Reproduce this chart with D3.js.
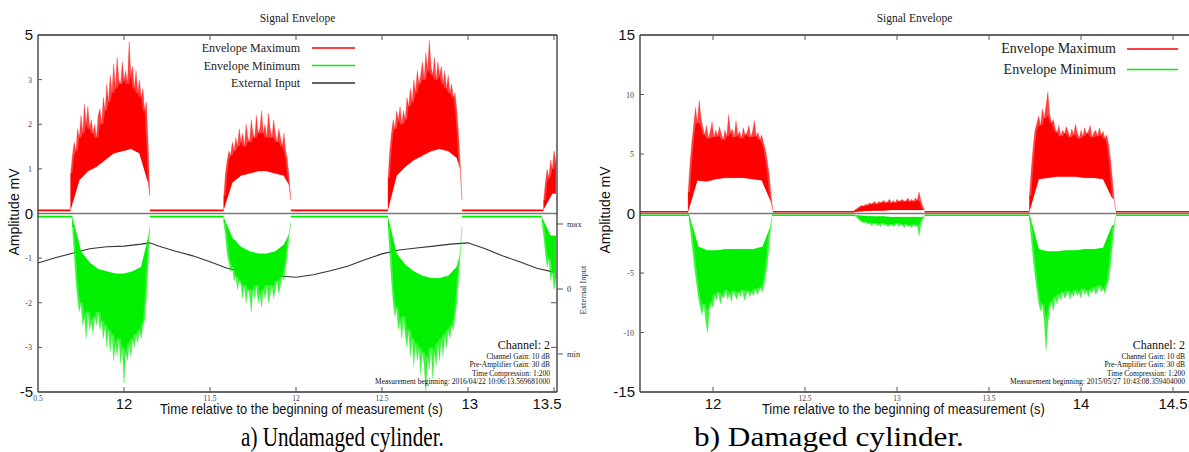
<!DOCTYPE html>
<html><head><meta charset="utf-8">
<script src="https://cdn.jsdelivr.net/npm/d3@7"></script>
<style>body{margin:0;background:#fff}svg{display:block}</style>
</head><body>
<svg id="chart" width="1189" height="452"></svg>
<script>
// ---------------- DATA ----------------
const DT = 0.01;          // sample step of envelope bursts (s)
const LO_DT = 0.05;       // sample step of the inner envelope bound (s)

// Panel a) Undamaged cylinder
const aRedStart = [10.69, 11.58, 12.535, 13.44];
const aRedHi = [
 [0.9,1.3,1.6,1.4,1.9,1.7,2.2,1.8,2.45,2.0,2.4,1.9,2.1,1.8,2.0,1.7,2.2,2.35,2.0,2.6,2.3,2.9,2.5,3.1,2.7,3.35,2.8,3.5,3.0,2.9,3.4,3.0,3.2,2.9,3.85,3.1,3.3,2.8,3.2,2.7,3.0,2.6,2.8,2.3,2.5,1.6,0.4],
 [0.4,0.9,1.2,1.4,1.3,1.6,1.4,1.7,1.5,1.9,1.6,1.8,1.5,2.0,1.7,1.6,2.1,1.8,1.7,2.2,1.8,1.9,2.3,1.8,2.0,1.7,2.25,1.9,1.7,2.1,1.8,1.6,1.9,1.7,1.5,1.8,1.4,1.2,0.8,0.3],
 [0.8,1.4,1.8,2.1,1.9,2.3,2.1,2.4,2.0,2.3,2.1,2.6,2.4,2.8,2.5,3.0,2.7,3.2,2.9,3.1,3.4,3.0,3.6,3.2,3.88,3.3,3.1,3.5,3.0,3.4,3.1,3.3,2.9,3.2,2.8,3.1,2.7,2.9,2.6,2.7,2.3,1.8,1.1,0.3],
 [0.3,0.7,1.0,0.8,1.2,1.0,1.4,1.2]
];
const aRedLo = [
 [0.1,0.75,0.95,1.05,1.2,1.35,1.4,1.45,1.35,0.7],
 [0.1,0.7,0.85,0.9,0.95,0.95,0.9,0.85,0.5],
 [0.1,0.85,1.05,1.2,1.3,1.4,1.45,1.4,1.25,0.6],
 [0.1,0.45]
];
const aGreenStart = [10.70, 11.58, 12.535, 13.43];
const aGreenHi = [
 [-0.3,-0.9,-1.5,-1.9,-2.2,-2.0,-2.5,-2.3,-2.8,-2.2,-2.6,-2.4,-2.7,-2.3,-2.5,-2.2,-2.6,-2.4,-2.8,-2.5,-3.0,-2.6,-3.1,-2.7,-3.3,-2.9,-3.2,-2.8,-3.35,-3.0,-3.8,-3.1,-3.3,-2.9,-3.2,-2.8,-3.0,-2.7,-2.9,-2.6,-2.8,-2.5,-2.4,-1.9,-1.2,-0.3],
 [-0.2,-0.5,-0.9,-1.1,-1.3,-1.2,-1.5,-1.4,-1.7,-1.5,-1.6,-1.9,-1.6,-2.0,-1.7,-1.8,-2.2,-1.7,-1.9,-1.6,-2.0,-1.8,-2.1,-1.7,-1.9,-1.6,-2.0,-1.8,-1.6,-1.9,-1.7,-1.5,-1.8,-1.6,-1.4,-1.5,-1.2,-0.9,-0.5,-0.2],
 [-0.3,-0.9,-1.5,-2.0,-2.3,-2.1,-2.6,-2.4,-2.8,-2.3,-2.7,-3.0,-2.6,-3.2,-2.8,-3.4,-2.9,-3.3,-3.0,-3.6,-3.1,-3.4,-4.0,-3.2,-3.5,-3.0,-3.7,-3.1,-3.4,-2.9,-3.3,-2.8,-3.2,-2.7,-3.0,-2.6,-2.8,-2.5,-2.6,-2.3,-2.0,-1.5,-0.9,-0.3],
 [-0.2,-0.5,-0.9,-1.2,-1.0,-1.5,-1.3,-1.7,-1.5]
];
const aGreenLo = [
 [-0.1,-0.85,-1.1,-1.25,-1.3,-1.35,-1.35,-1.3,-1.2,-0.4],
 [-0.1,-0.55,-0.75,-0.85,-0.9,-0.9,-0.85,-0.7,-0.3],
 [-0.1,-0.9,-1.15,-1.3,-1.4,-1.45,-1.45,-1.4,-1.2,-0.4],
 [-0.1,-0.5]
];
const aBase = [0.07, -0.07];   // idle level of max / min envelope
const aExtT = [10.5,10.6,10.7,10.8,10.9,11.0,11.1,11.15,11.2,11.3,11.4,11.5,11.6,11.7,11.8,11.9,12.0,12.1,12.2,12.3,12.4,12.5,12.6,12.7,12.8,12.9,13.0,13.1,13.2,13.3,13.4,13.5];
const aExtV = [0.40,0.48,0.55,0.62,0.65,0.66,0.69,0.71,0.66,0.58,0.51,0.42,0.32,0.26,0.23,0.20,0.18,0.22,0.28,0.35,0.45,0.54,0.60,0.63,0.66,0.69,0.71,0.62,0.51,0.42,0.32,0.26];
const aYSmall = [3, 2, 1, -1, -2, -3];
const aYBigText = ["5", "0", "-5"];
const aYBigAt = [4, 0, -4];
const aXTicks = [11, 11.5, 12, 12.5, 13, 13.5];
const aXSmallAt = [10.5, 11.5, 12, 12.5];
const aXSmallText = ["0.5", "11.5", "12", "12.5"];
const aXBigText = ["12", "13", "13.5"];
const aXBigAt = [11, 13.01, 13.46];
const aExtTickText = ["max", "0", "min"];
const aExtTickAt = [1, 0, -1];
const aLegend = ["Envelope Maximum", "Envelope Minimum", "External Input"];
const aInfo = ["Channel: 2", "Channel Gain: 10 dB", "Pre-Amplifier Gain: 30 dB", "Time Compression: 1:200", "Measurement beginning: 2016/04/22 10:06:13.569681000"];

// Panel b) Damaged cylinder
const bRedStart = [11.865, 12.77, 13.72];
const bRedHi = [
 [1.8,4.2,6.0,7.4,8.9,7.6,9.5,8.0,7.2,6.6,7.4,6.3,6.9,7.7,6.4,7.0,6.5,7.3,6.7,6.2,7.0,6.5,8.3,6.8,7.1,6.4,7.8,6.6,6.9,6.3,7.2,6.6,6.8,7.4,6.4,6.9,7.8,6.5,6.8,6.2,6.6,5.9,5.4,4.4,3.3,1.6,0.3],
 [0.3,0.4,0.5,0.6,0.7,0.6,0.8,0.7,0.9,0.8,0.9,1.0,0.8,1.0,0.9,1.0,1.1,0.9,1.0,1.2,0.9,1.1,0.9,1.2,1.0,1.1,1.2,1.0,1.1,1.3,1.0,1.2,1.0,1.3,1.1,1.8,1.1,0.6,0.3],
 [1.5,3.8,5.6,7.0,7.6,8.2,7.4,8.8,8.0,9.1,10.2,8.3,7.6,7.9,7.1,6.8,7.4,6.5,7.0,6.7,7.3,6.9,6.4,7.1,6.6,7.5,6.8,6.3,7.0,6.5,7.2,6.7,6.9,7.4,6.4,6.8,7.0,6.5,7.2,6.6,6.9,6.3,6.6,5.8,4.6,3.0,1.2,0.2]
];
const bRedLo = [
 [0.2,2.8,2.7,2.9,3.0,3.0,3.0,2.9,2.8,1.0],
 [0.15,0.2,0.25,0.25,0.3,0.3,0.3,0.3],
 [0.2,2.9,3.0,3.1,3.1,3.1,3.0,3.0,2.9,1.3]
];
const bGreenStart = [11.87, 12.77, 13.72];
const bGreenHi = [
 [-0.5,-1.8,-3.2,-4.6,-5.8,-7.0,-7.8,-8.5,-7.6,-9.0,-10.0,-8.2,-7.5,-7.9,-6.8,-7.3,-6.6,-7.6,-6.9,-7.1,-6.4,-7.2,-6.7,-7.4,-6.5,-6.9,-7.2,-6.6,-7.0,-6.4,-7.3,-6.8,-6.5,-7.0,-6.6,-6.9,-6.3,-6.8,-6.5,-6.2,-6.6,-5.8,-4.8,-3.5,-1.8,-0.3],
 [-0.2,-0.3,-0.5,-0.6,-0.7,-0.8,-0.7,-0.9,-0.8,-1.0,-0.9,-0.8,-1.0,-0.9,-1.1,-0.8,-1.0,-0.9,-1.1,-1.0,-0.9,-1.1,-1.0,-0.8,-1.1,-0.9,-1.0,-1.2,-0.9,-1.1,-1.0,-1.2,-0.9,-1.1,-1.0,-1.9,-0.9,-0.5,-0.2],
 [-0.5,-2.2,-3.8,-5.2,-6.4,-7.5,-8.2,-7.6,-9.0,-11.5,-9.2,-8.0,-7.4,-8.2,-7.0,-7.6,-6.8,-7.3,-6.6,-7.1,-6.9,-6.5,-7.2,-6.7,-7.0,-6.4,-6.9,-6.6,-7.1,-6.3,-6.8,-6.5,-7.0,-6.4,-6.7,-6.2,-6.8,-6.5,-6.0,-6.6,-6.3,-6.7,-6.1,-5.6,-4.4,-2.8,-1.2,-0.2]
];
const bGreenLo = [
 [-0.1,-2.8,-3.1,-3.1,-3.0,-3.0,-3.0,-3.0,-2.8,-0.8],
 [-0.15,-0.2,-0.25,-0.25,-0.3,-0.3,-0.3,-0.3],
 [-0.1,-3.0,-3.2,-3.2,-3.1,-3.1,-3.0,-3.0,-2.9,-1.0]
];
const bBase = [0.15, -0.15];
const bYSmall = [10, 5, -5, -10];
const bYBigText = ["15", "0", "-15"];
const bYBigAt = [15, 0, -15];
const bXTicks = [12, 12.5, 13, 13.5, 14, 14.5];
const bXSmallAt = [12.5, 13, 13.5];
const bXSmallText = ["12.5", "13", "13.5"];
const bXBigText = ["12", "14", "14.5"];
const bXBigAt = [12, 14, 14.5];
const bLegend = ["Envelope Maximum", "Envelope Minimum"];
const bInfo = ["Channel: 2", "Channel Gain: 10 dB", "Pre-Amplifier Gain: 30 dB", "Time Compression: 1:200", "Measurement beginning: 2015/05/27 10:43:08.359404000"];

// ---------------- DRAW ----------------
const svg = d3.select("#chart");
const SERIF = "'Liberation Serif','Times New Roman',serif";
const SANS = "'Liberation Sans',Arial,sans-serif";
const RED = "#ff0000", GREEN = "#00f000";

function panel(o) {
  const g = svg.append("g");
  const x = d3.scaleLinear().domain(o.xDom).range(o.xRange);
  const y = d3.scaleLinear().domain(o.yDom).range([o.bottom, o.top]);
  const L = o.left, R = o.right, T = o.top, B = o.bottom;
  const clipId = "clip" + o.id;
  g.append("clipPath").attr("id", clipId).append("rect")
    .attr("x", L).attr("y", T).attr("width", R - L).attr("height", B - T);
  const plot = g.append("g").attr("clip-path", `url(#${clipId})`);

  plot.append("line").attr("x1", L).attr("x2", R).attr("y1", y(0)).attr("y2", y(0))
    .attr("stroke", "#7a7a7a").attr("stroke-width", 1.3);

  if (o.ext) {
    const ey = d3.scaleLinear().domain([-1, 1]).range(o.extRange);
    plot.append("path").datum(o.ext.t.map((t, i) => [t, o.ext.v[i]]))
      .attr("d", d3.line().x(d => x(d[0])).y(d => ey(d[1])))
      .attr("fill", "none").attr("stroke", "#333").attr("stroke-width", 1.1);
  }

  function series(starts, his, los, base, color) {
    const ends = starts.map((s, i) => s + (his[i].length - 1) * DT);
    let prev = o.xDom[0];
    const segs = [];
    starts.forEach((s, i) => { segs.push([prev, s]); prev = ends[i]; });
    segs.push([prev, o.xDom[1]]);
    segs.forEach(sg => {
      if (sg[1] > sg[0]) plot.append("line").attr("x1", x(sg[0])).attr("x2", x(sg[1]))
        .attr("y1", y(base)).attr("y2", y(base)).attr("stroke", color).attr("stroke-width", 1.6);
    });
    starts.forEach((s, b) => {
      const hi = his[b];
      const loT = los[b].map((_, j) => s + j * LO_DT);
      const loS = d3.scaleLinear().domain(loT).range(los[b]).clamp(true);
      const pts = hi.map((v, i) => {
        const t = s + i * DT;
        const lo0 = loS(t);
        const lo = Math.abs(lo0) < Math.abs(v) ? lo0 : v;
        const nb = [hi[i - 1], v, hi[i + 1]].filter(u => u !== undefined);
        const core = d3.least(nb, u => Math.abs(u));
        return { t, hi: v, lo, core: Math.abs(core) > Math.abs(lo) ? core : lo };
      });
      plot.append("path").datum(pts)
        .attr("d", d3.area().x(d => x(d.t)).y0(d => y(d.lo)).y1(d => y(d.hi)))
        .attr("fill", color).attr("fill-opacity", 0.75)
        .attr("stroke", color).attr("stroke-width", 0.5).attr("stroke-opacity", 0.5);
      plot.append("path").datum(pts)
        .attr("d", d3.area().x(d => x(d.t)).y0(d => y(d.lo)).y1(d => y(d.core)))
        .attr("fill", color);
    });
  }
  series(o.redStart, o.redHi, o.redLo, o.base[0], RED);
  series(o.greenStart, o.greenHi, o.greenLo, o.base[1], GREEN);

  const frame = g.append("g").attr("stroke", "#333").attr("stroke-width", 1.3);
  frame.append("line").attr("x1", L).attr("x2", L).attr("y1", T).attr("y2", B);
  frame.append("line").attr("x1", L).attr("x2", R).attr("y1", T).attr("y2", T);
  frame.append("line").attr("x1", L).attr("x2", R).attr("y1", B).attr("y2", B);
  if (o.rightBorder) frame.append("line").attr("x1", R).attr("x2", R).attr("y1", T).attr("y2", B);

  o.xTicks.forEach(v => {
    g.append("line").attr("x1", x(v)).attr("x2", x(v)).attr("y1", T).attr("y2", T + 5).attr("stroke", "#555");
    g.append("line").attr("x1", x(v)).attr("x2", x(v)).attr("y1", B).attr("y2", B - 5).attr("stroke", "#555");
  });
  o.yTicks.forEach(v => {
    g.append("line").attr("x1", L).attr("x2", L + 4).attr("y1", y(v)).attr("y2", y(v)).attr("stroke", "#555");
  });
  g.selectAll(null).data(o.ySmall).join("text")
    .attr("x", L - 6).attr("y", d => y(d) + 3).attr("text-anchor", "end")
    .attr("font-family", SERIF).attr("font-size", 8).attr("fill", "#444").text(d => d);
  g.selectAll(null).data(o.xSmallAt).join("text")
    .attr("x", d => x(d)).attr("y", B + 9).attr("text-anchor", "middle")
    .attr("font-family", SERIF).attr("font-size", 7.5).attr("fill", "#444").text((d, i) => o.xSmallText[i]);
  g.selectAll(null).data(o.yBigAt).join("text")
    .attr("x", L - 5).attr("y", d => y(d) + 5).attr("text-anchor", "end")
    .attr("font-family", SANS).attr("font-size", 15).attr("fill", "#111").text((d, i) => o.yBigText[i]);
  g.selectAll(null).data(o.xBigAt).join("text")
    .attr("x", d => x(d)).attr("y", B + 17).attr("text-anchor", "middle")
    .attr("font-family", SANS).attr("font-size", 15).attr("fill", "#111").text((d, i) => o.xBigText[i]);

  g.append("text").attr("x", (L + Math.min(R, 1189)) / 2).attr("y", 22).attr("text-anchor", "middle")
    .attr("font-family", SERIF).attr("font-size", 11.5).attr("fill", "#222").text("Signal Envelope");
  g.append("text").attr("transform", `translate(${o.yTitleX},${o.yTitleY}) rotate(-90)`)
    .attr("text-anchor", "middle").attr("font-family", SANS).attr("font-size", 14).attr("fill", "#111")
    .text("Amplitude mV");
  // condensed x title: scaled horizontally to the reference width
  const xt = g.append("text").attr("x", 0).attr("y", 0)
    .attr("font-family", SANS).attr("font-size", 14).attr("fill", "#111")
    .text("Time relative to the beginning of measurement (s)");
  const nat = xt.node().getComputedTextLength();
  xt.attr("transform", `translate(${o.xTitleX},${B + 22}) scale(${283 / nat},1)`);

  o.legend.forEach((s, i) => {
    const ly = o.legY + i * o.legDy;
    g.append("text").attr("x", o.legX).attr("y", ly + 4).attr("text-anchor", "end")
      .attr("font-family", SERIF).attr("font-size", o.legFont).attr("fill", "#222").text(s);
    g.append("line").attr("x1", o.legLine[0]).attr("x2", o.legLine[1]).attr("y1", ly).attr("y2", ly)
      .attr("stroke", [RED, GREEN, "#333"][i]).attr("stroke-width", 1.6);
  });

  o.info.forEach((s, i) => {
    g.append("text").attr("x", o.infoX).attr("y", i === 0 ? o.infoY : o.infoY + 2 + i * 8.2)
      .attr("text-anchor", "end").attr("font-family", SERIF).attr("font-size", i === 0 ? 12 : 7.5)
      .attr("fill", "#111").text(s);
  });

  const cap = g.append("text").attr("x", 0).attr("y", 0)
    .attr("font-family", SERIF).attr("font-size", 27).attr("fill", "#000").text(o.caption);
  const cw = cap.node().getComputedTextLength();
  cap.attr("transform", `translate(${o.capX},446) scale(${o.capW / cw},1)`);
  return { g, x, y };
}

const pa = panel({
  id: "a", left: 38, right: 557, top: 35, bottom: 392,
  xDom: [10.5, 13.5], xRange: [38, 554], yDom: [-4, 4], rightBorder: true,
  redStart: aRedStart, redHi: aRedHi, redLo: aRedLo,
  greenStart: aGreenStart, greenHi: aGreenHi, greenLo: aGreenLo, base: aBase,
  ext: { t: aExtT, v: aExtV }, extRange: [354, 224],
  xTicks: aXTicks, yTicks: [3, 2, 1, -1, -2, -3],
  ySmall: aYSmall, yBigText: aYBigText, yBigAt: aYBigAt,
  xSmallAt: aXSmallAt, xSmallText: aXSmallText, xBigText: aXBigText, xBigAt: aXBigAt,
  yTitleX: 19, yTitleY: 212, xTitleX: 160,
  legend: aLegend, legX: 300, legY: 48, legDy: 17.5, legFont: 12, legLine: [312, 355],
  info: aInfo, infoX: 550, infoY: 349,
  caption: "a) Undamaged cylinder.", capX: 241, capW: 203
});
{
  const ey = d3.scaleLinear().domain([-1, 1]).range([354, 224]);
  aExtTickAt.forEach((v, i) => {
    pa.g.append("line").attr("x1", 557).attr("x2", 563).attr("y1", ey(v)).attr("y2", ey(v)).attr("stroke", "#555");
    pa.g.append("text").attr("x", 567).attr("y", ey(v) + 3).attr("font-family", SERIF).attr("font-size", 8.5)
      .attr("fill", "#333").text(aExtTickText[i]);
  });
  [-2, -3].forEach(v => pa.g.append("line").attr("x1", 551).attr("x2", 557).attr("y1", pa.y(v)).attr("y2", pa.y(v)).attr("stroke", "#555"));
  pa.g.append("text").attr("transform", "translate(586,290) rotate(-90)").attr("text-anchor", "middle")
    .attr("font-family", SERIF).attr("font-size", 8.5).attr("fill", "#333").text("External Input");
}

panel({
  id: "b", left: 640, right: 1191, top: 35, bottom: 392,
  xDom: [11.6, 14.6], xRange: [639.4, 1191.4], yDom: [-15, 15], rightBorder: false,
  redStart: bRedStart, redHi: bRedHi, redLo: bRedLo,
  greenStart: bGreenStart, greenHi: bGreenHi, greenLo: bGreenLo, base: bBase,
  xTicks: bXTicks, yTicks: [10, 5, -5, -10],
  ySmall: bYSmall, yBigText: bYBigText, yBigAt: bYBigAt,
  xSmallAt: bXSmallAt, xSmallText: bXSmallText, xBigText: bXBigText, xBigAt: bXBigAt,
  yTitleX: 610, yTitleY: 210, xTitleX: 762,
  legend: bLegend, legX: 1116, legY: 49, legDy: 20.5, legFont: 14, legLine: [1127, 1178],
  info: bInfo, infoX: 1185, infoY: 349,
  caption: "b) Damaged cylinder.", capX: 694, capW: 270
});
</script>
</body></html>
